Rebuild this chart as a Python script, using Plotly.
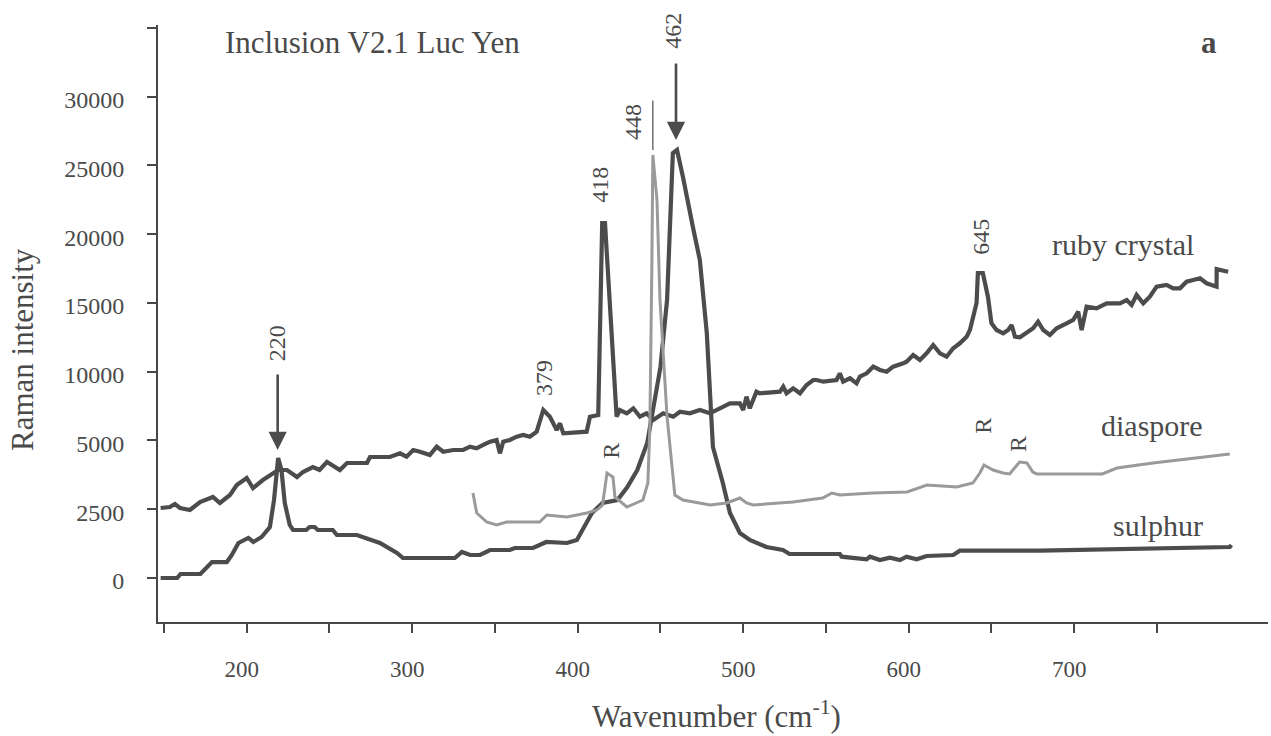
import plotly.graph_objects as go

# ---------------- data (wavenumber in cm-1, intensity in axis units) ----------------
# y-axis ticks are equally spaced but labelled 0, 2500, 5000, 10000, ... 30000
tick_positions = [0, 2500, 5000, 7500, 10000, 12500, 15000, 17500, 20000]
tick_labels = ["0", "2500", "5000", "10000", "15000", "20000", "25000", "30000", ""]

x_tick_values = [150, 200, 250, 300, 350, 400, 450, 500, 550, 600, 650, 700, 750]
x_tick_labels = ["", "200", "", "300", "", "400", "", "500", "", "600", "", "700", ""]

sulphur_x = [148, 158, 160, 172, 179, 188, 191, 195, 201, 204, 209, 214, 216.5, 219, 221,
             223, 226, 228, 236, 238, 241, 243, 252, 254.5, 266.6, 272.6, 280.5, 290.8,
             294.4, 325.8, 330, 335, 341, 347, 359, 362, 373, 381, 393.5, 399.5, 404,
             408.6, 415, 424, 430, 436, 442, 445, 450, 454, 457.5, 460, 463.6, 469.6,
             473.8, 478, 480, 481.7, 487.7, 492, 498, 504, 514, 524, 528, 558.4, 559.5,
             574.6, 576.6, 582.6, 588.6, 594.7, 598.7, 604.8, 610.8, 626.9, 630.9, 679.3,
             794, 795]
sulphur_y = [0, 0, 145, 145, 580, 580, 836, 1273, 1455, 1309, 1491, 1854, 2836, 4363, 3927,
             2727, 1927, 1745, 1745, 1854, 1854, 1745, 1745, 1563, 1563, 1455, 1273, 909,
             727, 727, 945, 836, 836, 1018, 1018, 1091, 1091, 1309, 1273, 1382, 1854,
             2363, 2727, 2836, 3309, 3927, 4909, 6000, 7672, 10108, 15453, 15563, 14580, 12763,
             11563, 8908, 6472, 4763, 3454, 2363, 1636, 1382, 1127, 1018, 873, 873, 775,
             679, 775, 654, 739, 654, 775, 679, 800, 836, 993, 993,
             1127, 1200]

ruby_x = [148, 153.6, 156.6, 159.7, 165.7, 171.8, 179.6, 183.8, 189.9, 194, 200, 203.8,
          209.8, 215.9, 219, 224.3, 230.4, 234, 240, 244, 248.5, 256.3, 260.6, 272.7,
          274.5, 286.5, 292.6, 296.6, 300.6, 304.7, 310.7, 314.8, 318.8, 324.8, 330.8,
          334.9, 338.9, 342.9, 347, 351, 353, 355, 359, 363.1, 367.1, 371.1, 375.2,
          379.2, 383.2, 387.3, 389.3, 391.3, 401.3, 405.4, 407.4, 412.4, 414.8, 416.5,
          423.5, 425.5, 429.6, 433.6, 437.6, 441.6, 445.6, 451.7, 457.7, 461.8, 467.8,
          473.8, 479.9, 485.9, 492, 498, 500, 502, 504, 508, 510, 522.2, 524.2, 526.2,
          530.2, 534.3, 538.3, 542.3, 544.4, 548.4, 556.4, 558.4, 560.4, 564.5, 568.5,
          570.5, 574.6, 578.6, 582.6, 586.7, 590.6, 596.7, 598.7, 602.7, 606.8, 610.8,
          614.8, 618.9, 622.9, 626.9, 630.9, 635, 637, 641, 641.8, 644.8, 647.9, 650,
          653.1, 657.1, 660.1, 662.2, 664.2, 667.2, 671.2, 675.2, 678.2, 681.3, 685.3,
          689.4, 695.4, 699.4, 702.4, 704.5, 707.5, 713.5, 719.6, 727.6, 731.7, 734.7,
          737.7, 741.7, 745.7, 749.8, 755.8, 759.8, 763.9, 767.9, 771.9, 776, 780, 784,
          786, 786.1, 793]
ruby_y = [2545, 2582, 2690, 2545, 2472, 2763, 2945, 2727, 3018, 3381, 3636, 3272,
          3563, 3818, 3927, 3927, 3672, 3854, 4036, 3927, 4218, 3927, 4181, 4181,
          4400, 4400, 4534, 4411, 4654, 4592, 4472, 4774, 4592, 4654, 4654,
          4774, 4716, 4836, 4956, 5018, 4534, 4956, 5018, 5138, 5200, 5138, 5320,
          6108, 5865, 5381, 5625, 5261, 5320, 5320, 5865, 5927, 12900, 12900,
          5865, 6108, 5988, 6170, 5865, 5988, 5745, 5988, 5865, 6047, 5988,
          6108, 5988, 6170, 6352, 6352, 6109, 6592, 6170, 6774, 6716, 6774, 6956, 6716,
          6897, 6716, 7018, 7200, 7200, 7138, 7200, 7442, 7138, 7260, 7078,
          7320, 7442, 7684, 7563, 7502, 7684, 7806, 7866, 8108, 7926, 8170,
          8472, 8170, 8047, 8352, 8534, 8774, 9018, 10000, 11090, 11090, 10218, 9261,
          9017, 8897, 9017, 9199, 8774, 8752, 8897, 9079, 9320, 9017, 8835,
          9079, 9261, 9381, 9683, 9017, 9865, 9806, 9988, 9988, 10108, 9926,
          10290, 9988, 10228, 10592, 10654, 10533, 10533, 10773, 10835, 10897, 10715, 10654,
          10592, 11228, 11137]

diaspore_x = [336.7, 339, 345, 351, 357, 377, 381.4, 393.5, 405.6, 411.6, 415, 417.7,
              421.3, 422.5, 429.7, 439.4, 442.4, 443.6, 444.8, 445.4, 447.9, 449.7, 454,
              457, 458.7, 463.6, 480, 490, 498, 502, 506, 530, 548, 553.6, 558.4, 578,
              599, 611, 629, 638.8, 643, 645.5, 651, 657, 661, 667, 671.4, 675, 677.5,
              717, 725.8, 747.6, 768, 794]
diaspore_y = [3090, 2363, 2036, 1927, 2036, 2036, 2290, 2218, 2363, 2472, 2654, 3818,
              3672, 2945, 2581, 2836, 3454, 5490, 11308, 15380, 13744, 10108, 5854,
              4036, 3018, 2836, 2654, 2727, 2909, 2727, 2654, 2763, 2909, 3090, 3018, 3090,
              3127, 3381, 3309, 3454, 3818, 4109, 3927, 3818, 3781, 4218, 4181, 3854, 3781,
              3781, 4000, 4181, 4327, 4509]

peak_labels = ["220", "379", "418", "448", "462", "645"]
series_names = ["ruby crystal", "diaspore", "sulphur"]

# ---------------- figure ----------------
DARK = "#4c4c4c"
LIGHT = "#9a9a9a"
TEXT = "#4a4a4a"
SERIF = "Liberation Serif"

fig = go.Figure()
fig.add_trace(go.Scatter(x=sulphur_x, y=sulphur_y, mode="lines", name=series_names[2],
                         line=dict(color=DARK, width=4.2)))
fig.add_trace(go.Scatter(x=ruby_x, y=ruby_y, mode="lines", name=series_names[0],
                         line=dict(color=DARK, width=4.2)))
fig.add_trace(go.Scatter(x=diaspore_x, y=diaspore_y, mode="lines", name=series_names[1],
                         line=dict(color=LIGHT, width=3)))

ann = []
# peak labels (rotated)
label_pos = [(218.5, 8545), (379.6, 7272), (413.4, 14290), (433.4, 16580), (457.5, 19890), (643.6, 12400)]
for txt, (lx, ly) in zip(peak_labels, label_pos):
    ann.append(dict(x=lx, y=ly, text=txt, showarrow=False, textangle=-90,
                    xanchor="center", yanchor="middle",
                    font=dict(family=SERIF, size=24, color=TEXT)))
# "R" marks
for (lx, ly) in [(420, 4618), (644.8, 5527), (666, 4872)]:
    ann.append(dict(x=lx, y=ly, text="R", showarrow=False, textangle=-90,
                    xanchor="center", yanchor="middle",
                    font=dict(family=SERIF, size=24, color=TEXT)))
# arrows
ann.append(dict(x=218.7, y=4654, text="", showarrow=True, ax=0, ay=-77,
                arrowhead=2, arrowsize=1.4, arrowwidth=2.6, arrowcolor=DARK))
ann.append(dict(x=459.4, y=15926, text="", showarrow=True, ax=0, ay=-78,
                arrowhead=2, arrowsize=1.4, arrowwidth=2.6, arrowcolor=DARK))
ann.append(dict(x=445.4, y=15563, text="", showarrow=True, ax=0, ay=-51,
                arrowhead=0, arrowwidth=1.2, arrowcolor=DARK))
# series names
for name, (lx, ly) in zip(series_names, [(729.5, 12108), (747, 5563), (750.6, 1927)]):
    ann.append(dict(x=lx, y=ly, text=name, showarrow=False,
                    xanchor="center", yanchor="middle",
                    font=dict(family=SERIF, size=30, color=TEXT)))
# title, panel letter, axis titles
ann.append(dict(xref="paper", yref="paper", x=0.0586, y=0.9715, xanchor="left", yanchor="middle",
                text="Inclusion V2.1 Luc Yen", showarrow=False,
                font=dict(family=SERIF, size=31, color=TEXT)))
ann.append(dict(xref="paper", yref="paper", x=0.947, y=0.9715, xanchor="center", yanchor="middle",
                text="<b>a</b>", showarrow=False,
                font=dict(family=SERIF, size=31, color=TEXT)))
ann.append(dict(xref="paper", yref="paper", x=-0.1225, y=0.4556, textangle=-90,
                xanchor="center", yanchor="middle",
                text="Raman intensity", showarrow=False,
                font=dict(family=SERIF, size=31, color=TEXT)))
ann.append(dict(xref="paper", yref="paper", x=0.5036, y=-0.155,
                xanchor="center", yanchor="middle",
                text="Wavenumber (cm<sup>-1</sup>)", showarrow=False,
                font=dict(family=SERIF, size=31, color=TEXT)))

fig.update_layout(
    width=1271, height=736,
    margin=dict(l=158, r=3, t=25, b=114),
    paper_bgcolor="white", plot_bgcolor="white",
    showlegend=False,
    annotations=ann,
    xaxis=dict(range=[146.4, 817.1], showgrid=False, zeroline=False,
               showline=True, linecolor="#474747", linewidth=2,
               tickmode="array", tickvals=x_tick_values, ticktext=x_tick_labels,
               ticks="outside", ticklen=9, tickwidth=2, tickcolor="#474747",
               ticklabelstandoff=16, ticklabelshift=-5,
               tickfont=dict(family=SERIF, size=23, color=TEXT)),
    yaxis=dict(range=[-1600, 20107], showgrid=False, zeroline=False,
               showline=True, linecolor="#474747", linewidth=2,
               tickmode="array", tickvals=tick_positions, ticktext=tick_labels,
               ticks="outside", ticklen=9, tickwidth=2, tickcolor="#474747",
               ticklabelstandoff=18, ticklabelshift=3,
               tickfont=dict(family=SERIF, size=24, color=TEXT)),
)

fig.write_html("out.html")
